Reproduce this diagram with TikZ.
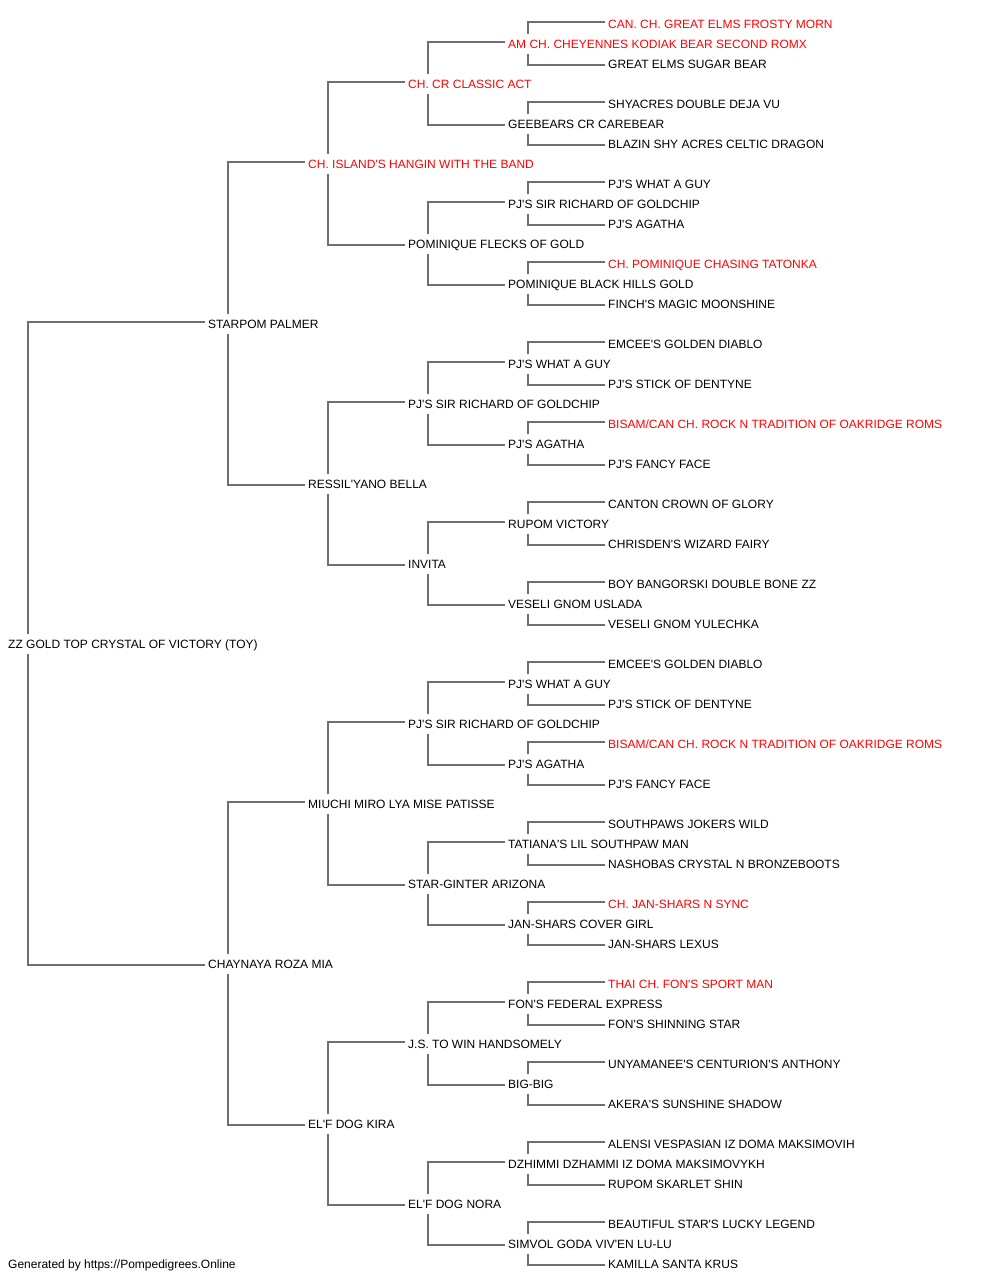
\documentclass[tikz,border=0pt]{standalone}
\usepackage{fontspec}
\setmainfont{Liberation Sans}[Ligatures=TeXOff]
\definecolor{lncol}{HTML}{707070}
\definecolor{redtxt}{HTML}{FF0000}
\tikzset{
  pn/.style={anchor=west, inner xsep=3pt, inner ysep=5.7pt, text height=8.6pt, text depth=0pt, font=\fontsize{12}{14}\selectfont, text=black},
  rd/.style={pn, text=redtxt},
  ln/.style={draw=lncol, line width=1.6pt}
}
\newcommand\lk[3]{%
  \draw[ln] ([yshift=2pt]#2.west) -| ([xshift=23pt]#1.north west);
  \draw[ln] ([yshift=-1pt]#3.west) -| ([xshift=23pt]#1.south west);}
\begin{document}
\begin{tikzpicture}[x=1pt,y=-1pt]
\useasboundingbox (0,0) rectangle (1000,1280);
% generation 0
\node[pn] (r) at (5,644) {ZZ GOLD TOP CRYSTAL OF VICTORY (TOY)};
% generation 1
\node[pn] (s) at (205,324) {STARPOM PALMER};
\node[pn] (d) at (205,964) {CHAYNAYA ROZA MIA};
% generation 2
\node[rd] (ss) at (305,164) {CH. ISLAND'S HANGIN WITH THE BAND};
\node[pn] (sd) at (305,484) {RESSIL'YANO BELLA};
\node[pn] (ds) at (305,804) {MIUCHI MIRO LYA MISE PATISSE};
\node[pn] (dd) at (305,1124) {EL'F DOG KIRA};
% generation 3
\node[rd] (sss) at (405,84) {CH. CR CLASSIC ACT};
\node[pn] (ssd) at (405,244) {POMINIQUE FLECKS OF GOLD};
\node[pn] (sds) at (405,404) {PJ'S SIR RICHARD OF GOLDCHIP};
\node[pn] (sdd) at (405,564) {INVITA};
\node[pn] (dss) at (405,724) {PJ'S SIR RICHARD OF GOLDCHIP};
\node[pn] (dsd) at (405,884) {STAR-GINTER ARIZONA};
\node[pn] (dds) at (405,1044) {J.S. TO WIN HANDSOMELY};
\node[pn] (ddd) at (405,1204) {EL'F DOG NORA};
% generation 4
\node[rd] (ssss) at (505,44) {AM CH. CHEYENNES KODIAK BEAR SECOND ROMX};
\node[pn] (sssd) at (505,124) {GEEBEARS CR CAREBEAR};
\node[pn] (ssds) at (505,204) {PJ'S SIR RICHARD OF GOLDCHIP};
\node[pn] (ssdd) at (505,284) {POMINIQUE BLACK HILLS GOLD};
\node[pn] (sdss) at (505,364) {PJ'S WHAT A GUY};
\node[pn] (sdsd) at (505,444) {PJ'S AGATHA};
\node[pn] (sdds) at (505,524) {RUPOM VICTORY};
\node[pn] (sddd) at (505,604) {VESELI GNOM USLADA};
\node[pn] (dsss) at (505,684) {PJ'S WHAT A GUY};
\node[pn] (dssd) at (505,764) {PJ'S AGATHA};
\node[pn] (dsds) at (505,844) {TATIANA'S LIL SOUTHPAW MAN};
\node[pn] (dsdd) at (505,924) {JAN-SHARS COVER GIRL};
\node[pn] (ddss) at (505,1004) {FON'S FEDERAL EXPRESS};
\node[pn] (ddsd) at (505,1084) {BIG-BIG};
\node[pn] (ddds) at (505,1164) {DZHIMMI DZHAMMI IZ DOMA MAKSIMOVYKH};
\node[pn] (dddd) at (505,1244) {SIMVOL GODA VIV'EN LU-LU};
% generation 5
\node[rd] (sssss) at (605,24) {CAN. CH. GREAT ELMS FROSTY MORN};
\node[pn] (ssssd) at (605,64) {GREAT ELMS SUGAR BEAR};
\node[pn] (sssds) at (605,104) {SHYACRES DOUBLE DEJA VU};
\node[pn] (sssdd) at (605,144) {BLAZIN SHY ACRES CELTIC DRAGON};
\node[pn] (ssdss) at (605,184) {PJ'S WHAT A GUY};
\node[pn] (ssdsd) at (605,224) {PJ'S AGATHA};
\node[rd] (ssdds) at (605,264) {CH. POMINIQUE CHASING TATONKA};
\node[pn] (ssddd) at (605,304) {FINCH'S MAGIC MOONSHINE};
\node[pn] (sdsss) at (605,344) {EMCEE'S GOLDEN DIABLO};
\node[pn] (sdssd) at (605,384) {PJ'S STICK OF DENTYNE};
\node[rd] (sdsds) at (605,424) {BISAM/CAN CH. ROCK N TRADITION OF OAKRIDGE ROMS};
\node[pn] (sdsdd) at (605,464) {PJ'S FANCY FACE};
\node[pn] (sddss) at (605,504) {CANTON CROWN OF GLORY};
\node[pn] (sddsd) at (605,544) {CHRISDEN'S WIZARD FAIRY};
\node[pn] (sddds) at (605,584) {BOY BANGORSKI DOUBLE BONE ZZ};
\node[pn] (sdddd) at (605,624) {VESELI GNOM YULECHKA};
\node[pn] (dssss) at (605,664) {EMCEE'S GOLDEN DIABLO};
\node[pn] (dsssd) at (605,704) {PJ'S STICK OF DENTYNE};
\node[rd] (dssds) at (605,744) {BISAM/CAN CH. ROCK N TRADITION OF OAKRIDGE ROMS};
\node[pn] (dssdd) at (605,784) {PJ'S FANCY FACE};
\node[pn] (dsdss) at (605,824) {SOUTHPAWS JOKERS WILD};
\node[pn] (dsdsd) at (605,864) {NASHOBAS CRYSTAL N BRONZEBOOTS};
\node[rd] (dsdds) at (605,904) {CH. JAN-SHARS N SYNC};
\node[pn] (dsddd) at (605,944) {JAN-SHARS LEXUS};
\node[rd] (ddsss) at (605,984) {THAI CH. FON'S SPORT MAN};
\node[pn] (ddssd) at (605,1024) {FON'S SHINNING STAR};
\node[pn] (ddsds) at (605,1064) {UNYAMANEE'S CENTURION'S ANTHONY};
\node[pn] (ddsdd) at (605,1104) {AKERA'S SUNSHINE SHADOW};
\node[pn] (dddss) at (605,1144) {ALENSI VESPASIAN IZ DOMA MAKSIMOVIH};
\node[pn] (dddsd) at (605,1184) {RUPOM SKARLET SHIN};
\node[pn] (dddds) at (605,1224) {BEAUTIFUL STAR'S LUCKY LEGEND};
\node[pn] (ddddd) at (605,1264) {KAMILLA SANTA KRUS};
% footer
\node[pn] (foot) at (5,1264) {Generated by https://Pompedigrees.Online};
% connectors
\lk{r}{s}{d}
\lk{s}{ss}{sd} \lk{d}{ds}{dd}
\lk{ss}{sss}{ssd} \lk{sd}{sds}{sdd} \lk{ds}{dss}{dsd} \lk{dd}{dds}{ddd}
\lk{sss}{ssss}{sssd} \lk{ssd}{ssds}{ssdd} \lk{sds}{sdss}{sdsd} \lk{sdd}{sdds}{sddd}
\lk{dss}{dsss}{dssd} \lk{dsd}{dsds}{dsdd} \lk{dds}{ddss}{ddsd} \lk{ddd}{ddds}{dddd}
\lk{ssss}{sssss}{ssssd} \lk{sssd}{sssds}{sssdd} \lk{ssds}{ssdss}{ssdsd} \lk{ssdd}{ssdds}{ssddd}
\lk{sdss}{sdsss}{sdssd} \lk{sdsd}{sdsds}{sdsdd} \lk{sdds}{sddss}{sddsd} \lk{sddd}{sddds}{sdddd}
\lk{dsss}{dssss}{dsssd} \lk{dssd}{dssds}{dssdd} \lk{dsds}{dsdss}{dsdsd} \lk{dsdd}{dsdds}{dsddd}
\lk{ddss}{ddsss}{ddssd} \lk{ddsd}{ddsds}{ddsdd} \lk{ddds}{dddss}{dddsd} \lk{dddd}{dddds}{ddddd}
\end{tikzpicture}
\end{document}
